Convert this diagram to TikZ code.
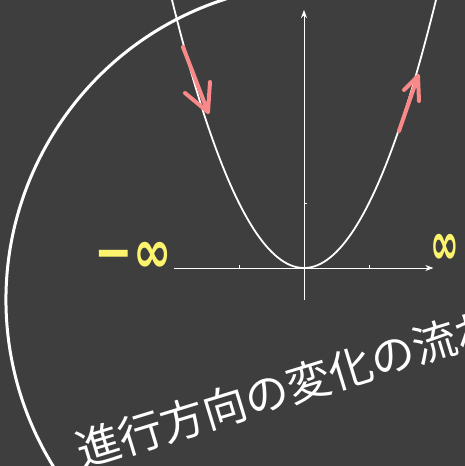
\documentclass[tikz,border=0pt]{standalone}
\usepackage{fontspec}
\usepackage{xcolor}
\usepackage{tikz}
\usetikzlibrary{arrows.meta,positioning,calc}
\newfontfamily\jpfont{Noto Sans CJK JP}
\newfontfamily\markfont{DejaVu Sans}
\definecolor{bdBoard}{HTML}{3E3E3E}
\definecolor{bdChalk}{HTML}{FFFFFF}
\definecolor{bdPink}{HTML}{F98989}
\definecolor{bdYellow}{HTML}{FCF46C}
\tikzset{
  axis line/.style={draw=bdChalk,line width=0.8pt,-{Stealth[length=8pt,width=6pt]}},
  tick line/.style={draw=bdChalk,line width=0.8pt},
  graph line/.style={draw=bdChalk,line width=1.8pt},
  chalk arc/.style={draw=bdChalk,line width=3pt,line cap=round},
  pen arrow/.style={draw=bdPink,line width=4pt,line cap=round,line join=round},
  limit label/.style={text=bdYellow,font=\markfont\bfseries\fontsize{46}{46}\selectfont,inner sep=0pt,yscale=1.3},
  hand note/.style={text=bdChalk,font=\jpfont\fontsize{44}{44}\selectfont,inner sep=0pt,rotate=17,anchor=west}
}

\begin{document}
\begin{tikzpicture}[x=65pt,y=65pt]
\useasboundingbox[fill=bdBoard] (-304pt,-198pt) rectangle (161pt,268pt);
\clip (-304pt,-198pt) rectangle (161pt,268pt);
% axes
\draw[axis line] (-2,0) -- (1.99,0);
\draw[axis line] (0,-0.49) -- (0,3.97);
\foreach \t in {-1,1}
  \draw[tick line] (\t,0) -- ++(0,3pt);
\draw[tick line] (0,1) -- ++(3pt,0);
% y = x^2
\draw[graph line] plot[domain=-2.1:2.1,samples=90,smooth] (\x,{\x*\x});
% direction marks
\draw[pen arrow] (-121pt,221pt) -- (-96pt,156pt) (-119pt,175pt) -- (-96pt,156pt) -- (-94pt,186pt);
\draw[pen arrow] (95pt,137pt) -- (114pt,192pt) (100pt,178pt) -- (114pt,192pt) -- (115pt,167pt);
% limits
\node[limit label] (minf) at (-171pt,11pt) {−∞};
\node[limit label,xscale=0.75] (pinf) at (141pt,19pt) {∞};
% big bracket
\coordinate (ctr) at (18pt,-32pt);
\draw[chalk arc] (ctr) ++(100:316pt) arc[start angle=100,end angle=216,radius=316pt];
\node[hand note] (flow) at (-227pt,-184pt) {進行方向の変化の流れ};
\end{tikzpicture}
\end{document}
